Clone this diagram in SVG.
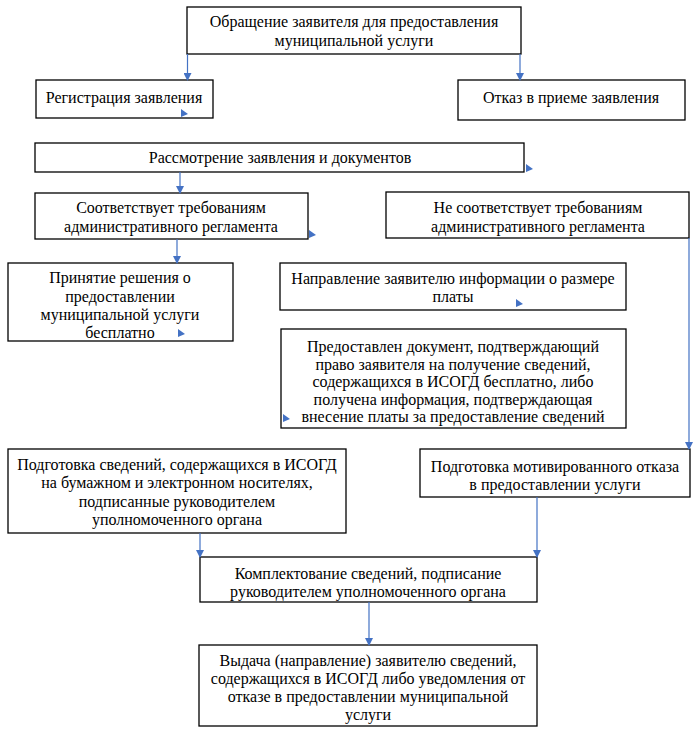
<svg xmlns="http://www.w3.org/2000/svg" width="700" height="736" viewBox="0 0 700 736">
<style>
.box{fill:#fff;stroke:#000;stroke-width:1.3}
.t{font-family:"Liberation Serif","Times New Roman",serif;font-size:16px;fill:#000;text-anchor:middle}
.c{stroke:#4472C4;stroke-width:1.2;fill:none}
.h{fill:#4472C4}
</style>
<defs>
<marker id="arr" markerWidth="8" markerHeight="8" refX="7" refY="4" orient="auto" markerUnits="userSpaceOnUse">
<path d="M0,0 L8,4 L0,8 Z" fill="#4472C4"/>
</marker>
</defs>
<rect width="700" height="736" fill="#fff"/>
<g id="n1"><rect class="box" x="187" y="7" width="334" height="47"/>
<text class="t" x="354" y="27">Обращение заявителя для предоставления</text>
<text class="t" x="354" y="46">муниципальной услуги</text></g>
<g id="n2"><rect class="box" x="36" y="80" width="177" height="38"/>
<text class="t" x="124" y="103">Регистрация заявления</text></g>
<g id="n3"><rect class="box" x="458" y="80" width="227" height="40"/>
<text class="t" x="571" y="103">Отказ в приеме заявления</text></g>
<g id="n4"><rect class="box" x="35" y="143" width="489" height="29"/>
<text class="t" x="280" y="163">Рассмотрение заявления и документов</text></g>
<g id="n5"><rect class="box" x="35" y="193" width="273" height="46"/>
<text class="t" x="171" y="213">Соответствует требованиям</text>
<text class="t" x="171" y="232">административного регламента</text></g>
<g id="n6"><rect class="box" x="386" y="192" width="303" height="46"/>
<text class="t" x="538" y="213">Не соответствует требованиям</text>
<text class="t" x="538" y="232">административного регламента</text></g>
<g id="n7"><rect class="box" x="8" y="263" width="225" height="78"/>
<text class="t" x="120" y="283">Принятие решения о</text>
<text class="t" x="120" y="302">предоставлении</text>
<text class="t" x="120" y="320">муниципальной услуги</text>
<text class="t" x="120" y="338">бесплатно</text></g>
<g id="n8"><rect class="box" x="280" y="263" width="346" height="47"/>
<text class="t" x="453" y="284">Направление заявителю информации о размере</text>
<text class="t" x="453" y="302">платы</text></g>
<g id="n9"><rect class="box" x="281" y="329" width="345" height="99"/>
<text class="t" x="453" y="352">Предоставлен документ, подтверждающий</text>
<text class="t" x="453" y="370">право заявителя на получение сведений,</text>
<text class="t" x="453" y="387">содержащихся в ИСОГД бесплатно, либо</text>
<text class="t" x="453" y="405">получена информация, подтверждающая</text>
<text class="t" x="453" y="422">внесение платы за предоставление сведений</text></g>
<g id="n10"><rect class="box" x="8" y="449" width="338" height="84"/>
<text class="t" x="177" y="470">Подготовка сведений, содержащихся в ИСОГД</text>
<text class="t" x="177" y="488">на бумажном и электронном носителях,</text>
<text class="t" x="177" y="507">подписанные руководителем</text>
<text class="t" x="177" y="525">уполномоченного органа</text></g>
<g id="n11"><rect class="box" x="420" y="449" width="270" height="48"/>
<text class="t" x="555" y="472">Подготовка мотивированного отказа</text>
<text class="t" x="555" y="490">в предоставлении услуги</text></g>
<g id="n12"><rect class="box" x="200" y="557" width="337" height="45"/>
<text class="t" x="368" y="579">Комплектование сведений, подписание</text>
<text class="t" x="368" y="597">руководителем уполномоченного органа</text></g>
<g id="n13"><rect class="box" x="199" y="645" width="338" height="81"/>
<text class="t" x="368" y="666">Выдача (направление) заявителю сведений,</text>
<text class="t" x="368" y="684">содержащихся в ИСОГД либо уведомления от</text>
<text class="t" x="368" y="702">отказе в предоставлении муниципальной</text>
<text class="t" x="368" y="720">услуги</text></g>
<g id="connectors">
<path class="c" d="M187.5,54 V80" marker-end="url(#arr)"/>
<path class="c" d="M520,54 V80" marker-end="url(#arr)"/>
<path class="c" d="M180,172 V193" marker-end="url(#arr)"/>
<path class="c" d="M177,239 V263" marker-end="url(#arr)"/>
<path class="c" d="M689,238 V449" marker-end="url(#arr)"/>
<path class="c" d="M200,533 V557" marker-end="url(#arr)"/>
<path class="c" d="M537,497 V557" marker-end="url(#arr)"/>
<path class="c" d="M369,602 V645" marker-end="url(#arr)"/>
<path class="h" d="M181,109 L188,114 L181,117 Z"/>
<path class="h" d="M526,164 L533,169 L526,172 Z"/>
<path class="h" d="M309,230 L316,235 L309,238 Z"/>
<path class="h" d="M178,329 L185,334 L178,337 Z"/>
<path class="h" d="M516,299 L523,304 L516,307 Z"/>
<path class="h" d="M283,414 L290,419 L283,422 Z"/>
</g>
</svg>
